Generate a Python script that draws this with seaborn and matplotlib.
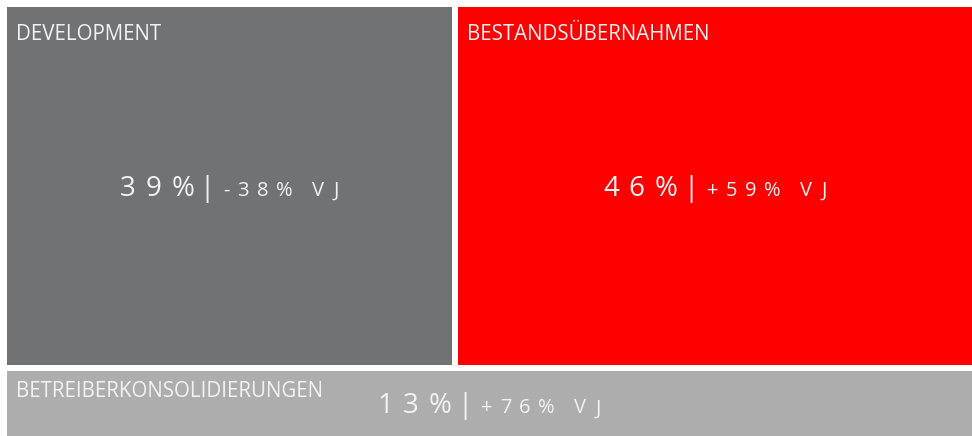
import matplotlib.pyplot as plt
import seaborn as sns
from matplotlib.offsetbox import TextArea, HPacker, AnnotationBbox

# Daten
kategorien = ['DEVELOPMENT', 'BESTANDSÜBERNAHMEN', 'BETREIBERKONSOLIDIERUNGEN']
anteil = ['39%', '46%', '13%']
veraenderung_vj = ['-38%', '+59%', '+76%']
# Flächengewichte der Kacheln (aus dem Bild geschätzt)
flaeche = [38.9, 44.8, 16.3]
farben = ['#717274', '#ff0000', '#adadad']

sns.set_theme(style='white')
plt.rcParams['font.family'] = ['Open Sans', 'DejaVu Sans']

fig = plt.figure(figsize=(9.72, 4.36), dpi=100)
fig.patch.set_facecolor('white')
ax = fig.add_axes([4 / 972, -3 / 436, 971 / 972, 435 / 436])
ax.set_xlim(0, 1)
ax.set_ylim(0, 1)
ax.axis('off')

# Treemap-Layout: unterer Streifen über volle Breite, oben zwei Kacheln
gesamt = sum(flaeche)
h_unten = flaeche[2] / gesamt
b_links = flaeche[0] / (flaeche[0] + flaeche[1])
kacheln = [
    (0.0, h_unten, b_links, 1 - h_unten),
    (b_links, h_unten, 1 - b_links, 1 - h_unten),
    (0.0, 0.0, 1.0, h_unten),
]

text_farbe = '#f2f2f2'
label_dy = [-36, -36, -29]  # Pixelabstand Oberkante -> Grundlinie


def gesperrt(s, size, sep):
    # Text mit Zeichenabstand (Sperrung)
    teile = [TextArea(c, textprops=dict(fontsize=size, color=text_farbe)) for c in s]
    return HPacker(children=teile, align='baseline', pad=0, sep=sep)


for i, (x, y, w, h) in enumerate(kacheln):
    ax.bar(x, h, width=w, bottom=y, align='edge', color=farben[i],
           edgecolor='white', linewidth=4.32)
    # Kategorie-Label oben links
    ax.annotate(kategorien[i], xy=(x, y + h), xytext=(12 * 0.72, label_dy[i] * 0.72),
                textcoords='offset points', ha='left', va='baseline',
                fontsize=14.8, color=text_farbe)
    # Wert | Veränderung VJ
    gross = gesperrt(anteil[i], 20, 7)
    strich = TextArea('|', textprops=dict(fontsize=20, color=text_farbe))
    klein = gesperrt(veraenderung_vj[i], 14.5, 5.5)
    vj = gesperrt('VJ', 14.5, 7)
    links = HPacker(children=[gross, strich], align='baseline', pad=0, sep=4)
    rechts = HPacker(children=[klein, vj], align='baseline', pad=0, sep=14)
    box = HPacker(children=[links, rechts], align='baseline', pad=0, sep=6)
    ab = AnnotationBbox(box, (x + w / 2, y + h / 2), xybox=(0, -2),
                        boxcoords='offset points', frameon=False,
                        box_alignment=(0.5, 0.5), pad=0)
    ax.add_artist(ab)

plt.savefig('out.png', dpi=100)
